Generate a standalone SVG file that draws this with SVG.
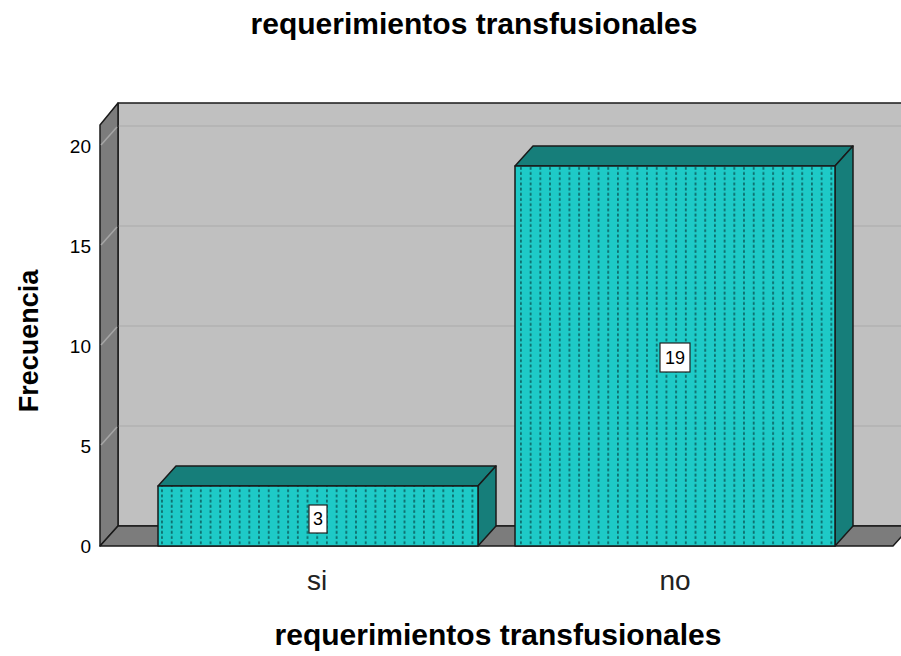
<svg xmlns="http://www.w3.org/2000/svg" width="901" height="656" viewBox="0 0 901 656">
<defs>
<pattern id="dots" patternUnits="userSpaceOnUse" x="2" y="0" width="9.7" height="5.2">
<rect x="4" y="0.5" width="1.6" height="2.8" fill="#0b5f5f"/>
</pattern>
<style>
.t{font-family:"Liberation Sans",Arial,sans-serif;fill:#000}
.b{font-weight:bold;font-size:30px}
.tick{font-size:19px;text-anchor:end}
.cat{font-size:28px;text-anchor:middle;fill:#222}
.edge{stroke:#1a1a1a;stroke-width:1.5;stroke-linejoin:round}
.front{fill:#1ECAC7}
.top{fill:#167E7A}
.grid{stroke:#b2b2b2;stroke-width:1.5}
.sgrid{stroke:#a6a6a6;stroke-width:1.5}
.lbl{fill:#fff;stroke:#222;stroke-width:1.2}
</style>
</defs>
<rect width="901" height="656" fill="#fff"/>
<text class="t b" x="474" y="34" text-anchor="middle">requerimientos transfusionales</text>
<g id="frame">
<rect x="118" y="103" width="800" height="423" fill="#C0C0C0" class="edge"/>
<line class="grid" x1="118" y1="126" x2="901" y2="126"/>
<line class="grid" x1="118" y1="226" x2="901" y2="226"/>
<line class="grid" x1="118" y1="326" x2="901" y2="326"/>
<line class="grid" x1="118" y1="426" x2="901" y2="426"/>
<polygon points="100,125 118,103 118,526 100,546" fill="#7c7c7c" class="edge"/>
<line class="sgrid" x1="101" y1="145" x2="117" y2="127"/>
<line class="sgrid" x1="101" y1="245" x2="117" y2="227"/>
<line class="sgrid" x1="101" y1="345" x2="117" y2="327"/>
<line class="sgrid" x1="101" y1="445" x2="117" y2="427"/>
<polygon points="100,546 118,526 911,526 893,546" fill="#7c7c7c" class="edge"/>
</g>
<g id="yaxis">
<text class="t tick" x="91" y="553">0</text>
<text class="t tick" x="91" y="453">5</text>
<text class="t tick" x="91" y="353">10</text>
<text class="t tick" x="91" y="253">15</text>
<text class="t tick" x="91" y="153">20</text>
<text class="t b" transform="translate(38,341) rotate(-90)" text-anchor="middle" style="font-size:27px">Frecuencia</text>
</g>
<g id="bar-si">
<polygon class="top edge" points="158,486 176,466 496,466 478,486"/>
<polygon class="top edge" points="478,486 496,466 496,526 478,546"/>
<rect class="front" x="158" y="486" width="320" height="60"/>
<rect x="158" y="486" width="320" height="60" fill="url(#dots)"/>
<rect x="158" y="486" width="320" height="60" fill="none" class="edge"/>
<rect class="lbl" x="309" y="505" width="18" height="28"/>
<text class="t" x="318" y="525" font-size="18" text-anchor="middle">3</text>
</g>
<g id="bar-no">
<polygon class="top edge" points="515,166 533,146 853,146 835,166"/>
<polygon class="top edge" points="835,166 853,146 853,526 835,546"/>
<rect class="front" x="515" y="166" width="320" height="380"/>
<rect x="515" y="166" width="320" height="380" fill="url(#dots)"/>
<rect x="515" y="166" width="320" height="380" fill="none" class="edge"/>
<rect class="lbl" x="660" y="343" width="30" height="29"/>
<text class="t" x="675" y="364" font-size="18" text-anchor="middle">19</text>
</g>
<g id="xaxis">
<text class="t cat" x="317" y="590">si</text>
<text class="t cat" x="675" y="590">no</text>
<text class="t b" x="498" y="645" text-anchor="middle">requerimientos transfusionales</text>
</g>
</svg>
